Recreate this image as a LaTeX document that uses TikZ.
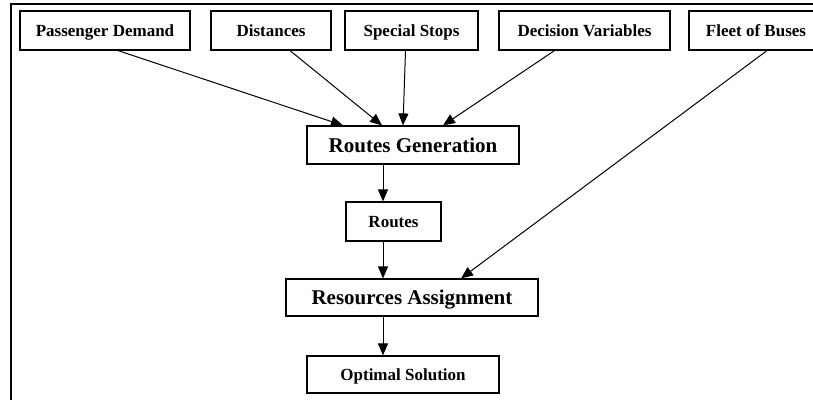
\documentclass[tikz,border=0pt]{standalone}
\usepackage{fontspec}
\setmainfont{Liberation Serif}
\usepackage{tikz}
\usetikzlibrary{positioning,calc}
\usetikzlibrary{arrows.meta}
\tikzset{box/.style={draw=black,line width=1.2pt,fill=white,inner sep=0pt,minimum height=39pt,text height=11pt,text depth=0pt,font=\fontsize{17}{19}\selectfont\bfseries}, bigbox/.style={box,minimum height=38pt,text height=14pt,font=\fontsize{21}{23}\selectfont\bfseries}, arr/.style={line width=1pt,-{Triangle[length=12pt,width=10pt]}}, frame/.style={line width=2pt}}

\begin{document}
\begin{tikzpicture}[x=1pt,y=-1pt]
\useasboundingbox (0,0) rectangle (813,399);
\draw[frame] (11,420) -- (11,4) -- (830,4);
\node[box,minimum width=170pt] (pd) at (105,30.5) {Passenger Demand};
\node[box,minimum width=120pt] (dist) at (271,30.5) {Distances};
\node[box,minimum width=133pt] (ss) at (411.5,30.5) {Special Stops};
\node[box,minimum width=171pt] (dv) at (584.5,30.5) {Decision Variables};
\node[box,minimum width=134pt] (fb) at (756,30.5) {Fleet of Buses};
\node[bigbox,minimum width=212pt] (rg) at (413,145) {Routes Generation};
\node[box,minimum width=95pt] (routes) at (393.5,221.5) {Routes};
\node[bigbox,minimum width=252pt,minimum height=37pt] (ra) at (412,297.5) {Resources Assignment};
\node[box,minimum width=192pt,minimum height=37pt] (opt) at (403,374.5) {Optimal Solution};
\coordinate (spine) at (383,0);
\draw[arr] ($(pd.south)+(13,0)$) -- ($(rg.north)+(-70,0)$);
\draw[arr] ($(dist.south)+(19,0)$) -- ($(rg.north)+(-31,0)$);
\draw[arr] ($(ss.south)+(-6,0)$) -- ($(rg.north)+(-10,0)$);
\draw[arr] ($(dv.south)+(-30,0)$) -- ($(rg.north)+(30,0)$);
\draw[arr] ($(fb.south)+(11,0)$) -- ($(ra.north)+(49,0)$);
\draw[arr] (rg.south -| spine) -- (routes.north -| spine);
\draw[arr] (routes.south -| spine) -- (ra.north -| spine);
\draw[arr] (ra.south -| spine) -- (opt.north -| spine);
\end{tikzpicture}
\end{document}
